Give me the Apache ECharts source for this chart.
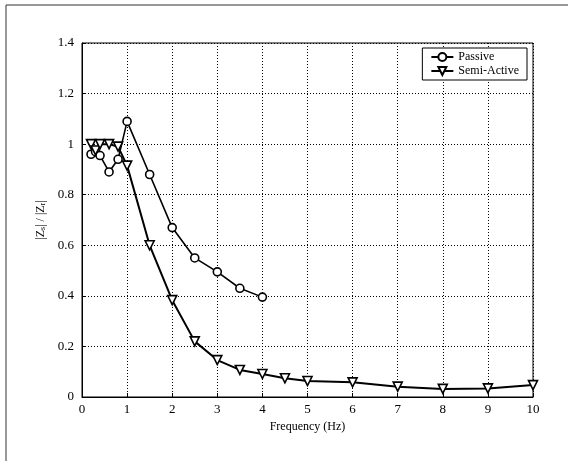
<!DOCTYPE html>
<html><head><meta charset="utf-8">
<script src="https://cdn.jsdelivr.net/npm/echarts@6/dist/echarts.min.js"></script>
<style>html,body{margin:0;padding:0;background:#fff}#c{width:568px;height:461px}</style>
</head><body><div id="c"></div>
<script>
const passiveFreq = [0.2, 0.3, 0.4, 0.6, 0.8, 1.0, 1.5, 2.0, 2.5, 3.0, 3.5, 4.0];
const passiveVals = [0.96, 0.97, 0.955, 0.89, 0.94, 1.09, 0.88, 0.67, 0.55, 0.495, 0.43, 0.395];
const semiFreq = [0.2, 0.3, 0.4, 0.6, 0.8, 1.0, 1.5, 2.0, 2.5, 3.0, 3.5, 4.0, 4.5, 5, 6, 7, 8, 9, 10];
const semiVals = [1.0, 0.975, 1.0, 1.0, 0.99, 0.915, 0.60, 0.383, 0.22, 0.146, 0.107, 0.091, 0.074, 0.063, 0.058, 0.041, 0.032, 0.034, 0.047];
const xTicks = [0,1,2,3,4,5,6,7,8,9,10];
const yTicks = [0,0.2,0.4,0.6,0.8,1,1.2,1.4];

const font = 'Liberation Serif';
const chart = echarts.init(document.getElementById('c'));
const zip = (a,b)=>a.map((v,i)=>[v,b[i]]);
chart.setOption({
  animation:false,
  backgroundColor:'#fff',
  textStyle:{fontFamily:font,color:'#000'},
  graphic:[
    {type:'polyline',shape:{points:[[6,461],[6,5],[568,5]]},style:{stroke:'#333',lineWidth:1,fill:null}}
  ],
  grid:{left:82,right:35,top:43,bottom:64,show:true,borderColor:'#000',borderWidth:1},
  legend:{
    right:41,top:48,orient:'vertical',
    backgroundColor:'#fff',borderColor:'#000',borderWidth:1,borderRadius:0,
    padding:[3,8,3,8],itemGap:2,itemWidth:22,itemHeight:10,
    textStyle:{fontFamily:font,fontSize:12,color:'#000'},
    data:['Passive','Semi-Active']
  },
  xAxis:{
    type:'value',min:xTicks[0],max:xTicks[xTicks.length-1],interval:1,
    name:'Frequency (Hz)',nameLocation:'middle',nameGap:23,
    nameTextStyle:{fontFamily:font,fontSize:12,color:'#000'},
    axisLine:{show:true,lineStyle:{color:'#000'}},
    axisTick:{show:true,inside:true,length:4,lineStyle:{color:'#000'}},
    axisLabel:{fontFamily:font,fontSize:13,color:'#000',margin:6},
    splitLine:{show:true,lineStyle:{color:'#000',type:[1,2],width:1}}
  },
  yAxis:{
    type:'value',min:yTicks[0],max:yTicks[yTicks.length-1],interval:0.2,
    name:'|Z{s|s}| / |Z{s|r}|',nameLocation:'middle',nameGap:34,nameRotate:90,
    nameTextStyle:{fontFamily:font,fontSize:12,color:'#000',rich:{s:{fontSize:8,verticalAlign:'bottom',fontFamily:font,color:'#000'}}},
    axisLine:{show:true,lineStyle:{color:'#000'}},
    axisTick:{show:true,inside:true,length:4,lineStyle:{color:'#000'}},
    axisLabel:{fontFamily:font,fontSize:13,color:'#000',margin:8},
    splitLine:{show:true,lineStyle:{color:'#000',type:[1,2],width:1}}
  },
  series:[
    {name:'Passive',type:'line',data:zip(passiveFreq,passiveVals),
     symbol:'circle',symbolSize:8,showAllSymbol:true,
     lineStyle:{color:'#000',width:1.6},
     itemStyle:{color:'#fff',borderColor:'#000',borderWidth:1.6}},
    {name:'Semi-Active',type:'line',data:zip(semiFreq,semiVals),
     symbol:'triangle',symbolRotate:180,symbolSize:9,showAllSymbol:true,
     lineStyle:{color:'#000',width:2},
     itemStyle:{color:'#fff',borderColor:'#000',borderWidth:1.6}}
  ]
});
</script></body></html>
